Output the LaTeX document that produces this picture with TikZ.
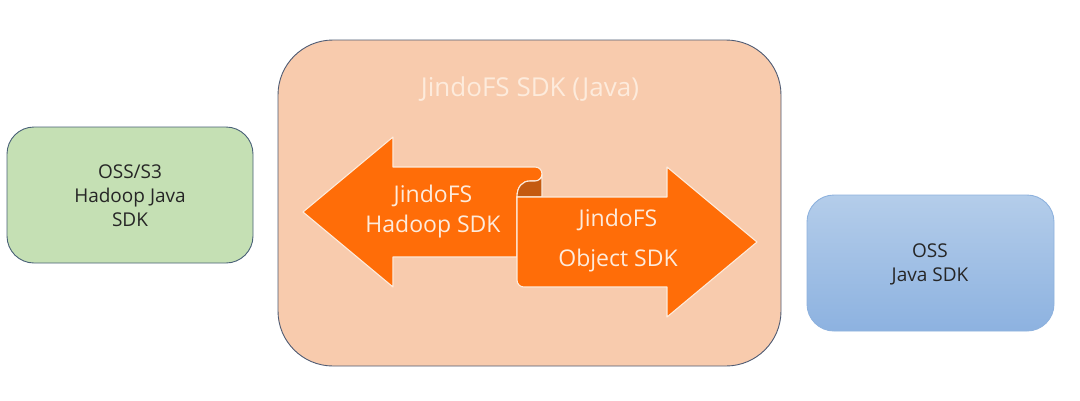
\documentclass[tikz,border=0pt]{standalone}
\usepackage{fontspec}
\setmainfont{Open Sans}
\definecolor{peach}{HTML}{F8CBAD}
\definecolor{peachline}{HTML}{4F5B73}
\definecolor{greenfill}{HTML}{C5E0B4}
\definecolor{greenline}{HTML}{4A6178}
\definecolor{bluetop}{HTML}{B4CDEA}
\definecolor{bluebot}{HTML}{8DB2E0}
\definecolor{blueline}{HTML}{8EB2DE}
\definecolor{arrowfill}{HTML}{FF6D08}
\definecolor{folddark}{HTML}{C45A10}
\definecolor{cream}{HTML}{FDEBDC}
\definecolor{darktext}{HTML}{262626}
\tikzset{
  sidebox/.style={rounded corners=27pt, line width=0.9pt},
  ribbon/.style={fill=arrowfill, draw=cream, line width=1.1pt, line join=round},
  arrowtext/.style={text=cream, font=\fontsize{23}{30}\selectfont, align=center},
  boxtext/.style={text=darktext, font=\fontsize{19}{24}\selectfont, align=center},
}
\begin{document}
\begin{tikzpicture}[x=1pt,y=-1pt]
\useasboundingbox[fill=white] (0,0) rectangle (1080,400);
% main container
\draw[fill=peach, draw=peachline, line width=0.9pt, rounded corners=55pt] (278,40) rectangle (781,366);
\node[text=cream, font=\fontsize{26}{30}\selectfont] (title) at (530,89) {JindoFS SDK (Java)};
% left box
\draw[sidebox, fill=greenfill, draw=greenline] (7,127) rectangle (253,263);
\node[boxtext] (hadoopjava) at (130,196) {OSS/S3\\Hadoop Java\\SDK};
% right box
\draw[sidebox, top color=bluetop, bottom color=bluebot, draw=blueline] (807,195) rectangle (1054,331);
\node[boxtext] (ossjava) at (930,264) {OSS\\Java SDK};
% ribbon: left arrow
\draw[ribbon] (303,212) -- (393,137) -- (393,167) -- (535,167)
  .. controls (544.3,167) and (544.3,181) .. (535,181) -- (530,181)
  .. controls (522,181) and (517,187) .. (517,197) -- (517,257) -- (393,257) -- (393,287) -- cycle;
% fold
\draw[fill=folddark, draw=cream, line width=1.1pt, line join=round] (517,197)
  .. controls (517,187) and (522,181) .. (530,181) -- (535,181)
  .. controls (539,181) and (542,178) .. (542,174) -- (542,197) -- cycle;
% right arrow
\draw[ribbon] (517,197) -- (517,280) .. controls (517,284) and (520,287) .. (524,287)
  -- (667,287) -- (667,317) -- (757,242) -- (667,167) -- (667,197) -- cycle;
\node[arrowtext] (hadoopsdk) at (433,212) {JindoFS\\Hadoop SDK};
\node[arrowtext, font=\fontsize{23}{40}\selectfont] (objectsdk) at (618,241) {JindoFS\\Object SDK};
\end{tikzpicture}
\end{document}
